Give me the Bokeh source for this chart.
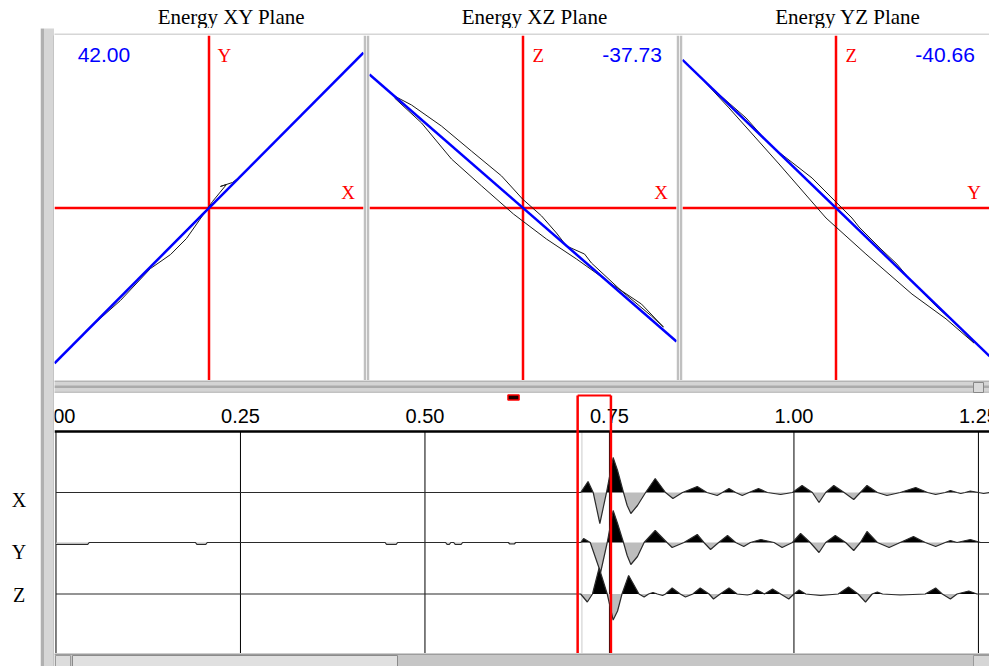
import numpy as np
from bokeh.plotting import figure
from bokeh.layouts import row, column
from bokeh.models import Range1d
from bokeh.embed import file_html
from bokeh.resources import INLINE
from bokeh.core.properties import value

# ---------------- data ----------------
plane_titles = ["Energy XY Plane", "Energy XZ Plane", "Energy YZ Plane"]
h_axis_names = ["X", "X", "Y"]
v_axis_names = ["Y", "Z", "Z"]
angles = [42.00, -37.73, -40.66]

# particle-motion loops (normalised amplitude)
xy_h = [-0.819, -0.573, -0.314, -0.055, 0.204, 0.152, 0.074, 0.113, 0.023, -0.146, -0.249, -0.379, -0.573, -0.806]
xy_v = [-0.733, -0.513, -0.281, -0.043, 0.183, 0.148, 0.125, 0.136, 0.038, -0.177, -0.270, -0.351, -0.536, -0.722]
xz_h = [-0.837, -0.661, -0.466, -0.270, -0.062, 0.153, 0.349, 0.577, 0.772, 0.915, 0.837, 0.642, 0.446, 0.401,
        0.283, 0.218, 0.121, -0.003, -0.140, -0.336, -0.531, -0.726, -0.837]
xz_v = [0.638, 0.493, 0.284, 0.128, -0.035, -0.180, -0.296, -0.441, -0.557, -0.690, -0.626, -0.481, -0.319, -0.267,
        -0.220, -0.145, -0.046, 0.052, 0.186, 0.330, 0.475, 0.597, 0.649]
yz_h = [-0.860, -0.697, -0.371, -0.065, 0.195, 0.495, 0.717, 0.899, 0.814, 0.651, 0.495, 0.397, 0.293, 0.150,
        0.104, -0.033, -0.156, -0.423, -0.586, -0.749, -0.860]
yz_v = [0.736, 0.580, 0.255, -0.058, -0.267, -0.499, -0.643, -0.783, -0.701, -0.568, -0.429, -0.325, -0.238, -0.110,
        -0.058, 0.064, 0.174, 0.359, 0.522, 0.649, 0.736]

# three-component seismogram (time in s, amplitude in counts)
trace_names = ["X", "Y", "Z"]
x_t = [0.000, 0.711, 0.721, 0.728, 0.737, 0.746, 0.755, 0.761, 0.769, 0.774, 0.779, 0.788, 0.799, 0.812, 0.826,
       0.836, 0.849, 0.869, 0.882, 0.896, 0.903, 0.912, 0.921, 0.930, 0.939, 0.952, 0.964, 0.982, 0.998, 1.011,
       1.025, 1.034, 1.043, 1.054, 1.068, 1.081, 1.090, 1.099, 1.113, 1.126, 1.144, 1.165, 1.181, 1.192, 1.205,
       1.212, 1.221, 1.226, 1.232, 1.239, 1.250, 1.257, 1.265]
x_amp = [0, 0, 11, 0, -31, 0, 35, 22, 0, -13, -21, -13, 0, 14, 0,
         -6, 0, 6, 0, -3, 0, 4, 0, -3, 0, 4, 0, -2, 0, 7,
         0, -10, 0, 7, 0, -7, 0, 7, 0, -3, 0, 5, 0, -2, 0,
         2, 0, -1, 0, 1.5, 0, -1, 0]
y_t = [0.000, 0.043, 0.045, 0.189, 0.191, 0.203, 0.205, 0.446, 0.448, 0.461, 0.463, 0.528, 0.530, 0.533, 0.535,
       0.539, 0.541, 0.549, 0.551, 0.613, 0.615, 0.621, 0.623,
       0.711, 0.715, 0.724, 0.738, 0.747, 0.755, 0.761, 0.769, 0.774, 0.779, 0.788, 0.797, 0.812, 0.828, 0.835,
       0.851, 0.869, 0.878, 0.887, 0.898, 0.910, 0.921, 0.932, 0.941, 0.955, 0.973, 0.984, 0.998, 1.009, 1.022,
       1.034, 1.043, 1.056, 1.070, 1.081, 1.090, 1.099, 1.113, 1.129, 1.144, 1.162, 1.178, 1.192, 1.205, 1.212,
       1.221, 1.239, 1.253, 1.265]
y_amp = [-2, -2, 0, 0, -2, -2, 0, 0, -2, -2, 0, 0, -2, -2, 0,
         0, -2, -2, 0, 0, -1.5, -1.5, 0,
         0, 4, 0, -30, 0, 32, 19, 0, -13, -22, -14, 0, 12, 0, -5,
         0, 8, 0, -7, 0, 7, 0, -4, 0, 3, 0, -5, 0, 9, 0,
         -10, 0, 7, 0, -8, 0, 11, 0, -5, 0, 6, 0, -4, 0, 2,
         0, 3, 0, 0]
z_t = [0.000, 0.711, 0.720, 0.727, 0.736, 0.747, 0.755, 0.761, 0.767, 0.776, 0.790, 0.797, 0.803, 0.809, 0.815,
       0.822, 0.826, 0.835, 0.846, 0.853, 0.863, 0.873, 0.885, 0.891, 0.900, 0.912, 0.923, 0.937, 0.943, 0.950,
       0.960, 0.971, 0.982, 0.993, 1.000, 1.007, 1.016, 1.036, 1.060, 1.074, 1.087, 1.097, 1.106, 1.113, 1.120,
       1.144, 1.178, 1.192, 1.201, 1.212, 1.221, 1.237, 1.248, 1.265]
z_amp = [0, 0, -8, 0, 26, 0, -26, -17, 0, 18.5, 0, -3, 0, 1.5, 0,
         -1.5, 0, 6, 0, -3, 0, 6, 0, -5, 0, 6, 0, -1, 0, 4,
         0, 5, 0, -5, 0, 4, 0, -1.5, 0, 7, 0, -8, 0, 2, 0,
         -1, 0, 6, 0, -5, 0, 3, 0, 0]
assert len(x_t) == len(x_amp) and len(y_t) == len(y_amp) and len(z_t) == len(z_amp)

tick_values = [0.0, 0.25, 0.50, 0.75, 1.00, 1.25]
tick_labels = ["0.00", "0.25", "0.50", "0.75", "1.00", "1.25"]
window = [0.7069, 0.7520]
pick_time = 0.7127
marker_time = 0.620

# ---------------- helpers ----------------
SANS = value("Liberation Sans")
SERIF = value("Liberation Serif")


def bare(w, h, xr, yr, bg="white", **kw):
    p = figure(width=w, height=h, x_range=Range1d(*xr), y_range=Range1d(*yr),
               output_backend="svg", toolbar_location=None, title=None,
               x_axis_location=None, y_axis_location=None, min_border=0, **kw)
    p.grid.visible = False
    p.background_fill_color = bg
    p.border_fill_color = bg
    p.outline_line_color = None
    return p


# ---------------- title strip ----------------
title_fig = bare(989, 28, (0, 989), (28, 0))
title_fig.text(x=[231, 534, 847.5], y=[16, 16, 16], text=plane_titles, text_font=SERIF,
               text_font_size=value("21px"), text_align="center", text_baseline="middle",
               text_color="black")

# ---------------- left label column ----------------
label_fig = bare(40, 638, (0, 40), (666, 28))
label_fig.text(x=[18.5] * 3, y=[499.5, 551, 594], text=trace_names, text_font=SERIF,
               text_font_size=value("20px"), text_align="center", text_baseline="middle",
               text_color="black")

lborder = bare(14, 638, (40, 54), (666, 28), bg="#d6d6d6")
lborder.quad(left=[40.5], right=[43.5], top=[28], bottom=[666], fill_color="#b0b0b0", line_color=None)
lborder.quad(left=[52.5], right=[54], top=[35], bottom=[666], fill_color="#c4c4c4", line_color=None)

top_band = bare(935, 7, (54, 989), (35, 28), bg="#d6d6d6")

# ---------------- hodogram panels ----------------
loops = [(xy_h, xy_v), (xz_h, xz_v), (yz_h, yz_v)]
panel_dims = [(312, 0, 3), (313, 3, 3), (310, 3, 0)]
panels = []
for i in range(3):
    w, mbl, mbr = panel_dims[i]
    p = bare(w, 345, (-1, 1), (-1, 1), min_border_left=mbl, min_border_right=mbr)
    p.border_fill_color = "#c0c0c0"
    # crosshair
    p.segment(x0=[0, -1], y0=[-1, 0], x1=[0, 1], y1=[1, 0], line_color="red", line_width=2.5)
    # particle motion
    hx, hy = loops[i]
    p.line(hx, hy, line_color="#1a1a1a", line_width=1)
    # polarisation direction
    s = np.tan(np.radians(angles[i]))
    p.line([-1, 1], [-s, s], line_color="#0000ff", line_width=2.5)
    # labels
    p.text(x=[0.10], y=[0.885], text=[v_axis_names[i]], text_font=SERIF, text_font_size=value("19px"),
           text_color="red", text_align="center", text_baseline="middle")
    p.text(x=[0.90], y=[0.09], text=[h_axis_names[i]], text_font=SERIF, text_font_size=value("19px"),
           text_color="red", text_align="center", text_baseline="middle")
    if angles[i] > 0:
        ax, al = -0.85, "left"
    else:
        ax, al = 0.905, "right"
    p.text(x=[ax], y=[0.885], text=[f"{angles[i]:.2f}"], text_font=SANS, text_font_size=value("21px"),
           text_color="#0000ff", text_align=al, text_baseline="middle")
    panels.append(p)

# ---------------- splitter ----------------
splitter = bare(935, 13, (54, 989), (393, 380), bg="#d4d4d4")
splitter.quad(left=[54], right=[989], top=[380], bottom=[381.5], fill_color="#b4b4b4", line_color=None)
splitter.quad(left=[54], right=[989], top=[385], bottom=[387.5], fill_color="#ababab", line_color=None)
splitter.quad(left=[54], right=[989], top=[391], bottom=[393], fill_color="#c2c2c2", line_color=None)
splitter.quad(left=[973], right=[983], top=[382], bottom=[392], fill_color="#dadada", line_color="#888888",
              line_width=1)

# ---------------- seismogram panel ----------------
bottom = bare(935, 260, (-0.002, 1.265), (0, 260))
offsets = [161, 111, 59.5]
axis_level = 222
label_level = 238
box_top = 258

bottom.segment(x0=tick_values, y0=[0] * 6, x1=tick_values, y1=[axis_level] * 6, line_color="black",
               line_width=1)
bottom.segment(x0=[pick_time], y0=[0], x1=[pick_time], y1=[axis_level], line_color="#cccccc", line_width=1)

for (tt, aa), off in zip([(x_t, x_amp), (y_t, y_amp), (z_t, z_amp)], offsets):
    tt = np.asarray(tt, float)
    aa = np.asarray(aa, float)
    base = np.full_like(tt, off)
    bottom.varea(x=tt, y1=base, y2=off + np.maximum(aa, 0), fill_color="black")
    bottom.varea(x=tt, y1=base, y2=off + np.minimum(aa, 0), fill_color="#bdbdbd")
    bottom.line(tt, off + aa, line_color="#2a2a2a", line_width=1.2)

bottom.segment(x0=[-0.002], y0=[axis_level], x1=[1.265], y1=[axis_level], line_color="black", line_width=2.5)
bottom.text(x=tick_values, y=[label_level] * 6, text=tick_labels, text_font=SANS, text_font_size=value("20px"),
            text_color="black", text_align="center", text_baseline="middle")

# analysis window
bottom.segment(x0=window, y0=[0, 0], x1=window, y1=[box_top, box_top], line_color="red", line_width=2.5)
bottom.segment(x0=[window[0]], y0=[box_top], x1=[window[1]], y1=[box_top], line_color="red", line_width=2)
bottom.rect(x=[marker_time], y=[256], width=0.015, height=5, fill_color="#200000", line_color="red",
            line_width=1.5)

# ---------------- scrollbar ----------------
scroll = bare(935, 13, (54, 989), (666, 653), bg="#c6c6c6")
scroll.quad(left=[54], right=[989], top=[653], bottom=[654.3], fill_color="#8f8f8f", line_color=None)
scroll.quad(left=[55], right=[70], top=[655], bottom=[666], fill_color="#dcdcdc", line_color="#9a9a9a")
scroll.quad(left=[72], right=[397], top=[655], bottom=[666], fill_color="#e0e0e0", line_color="#8a8a8a")
scroll.quad(left=[973], right=[989], top=[655], bottom=[666], fill_color="#d6d6d6", line_color="#9a9a9a")

right_col = column(top_band, row(*panels), splitter, bottom, scroll)
page = column(title_fig, row(label_fig, lborder, right_col))

open("out.html", "w").write(file_html(page, INLINE))
